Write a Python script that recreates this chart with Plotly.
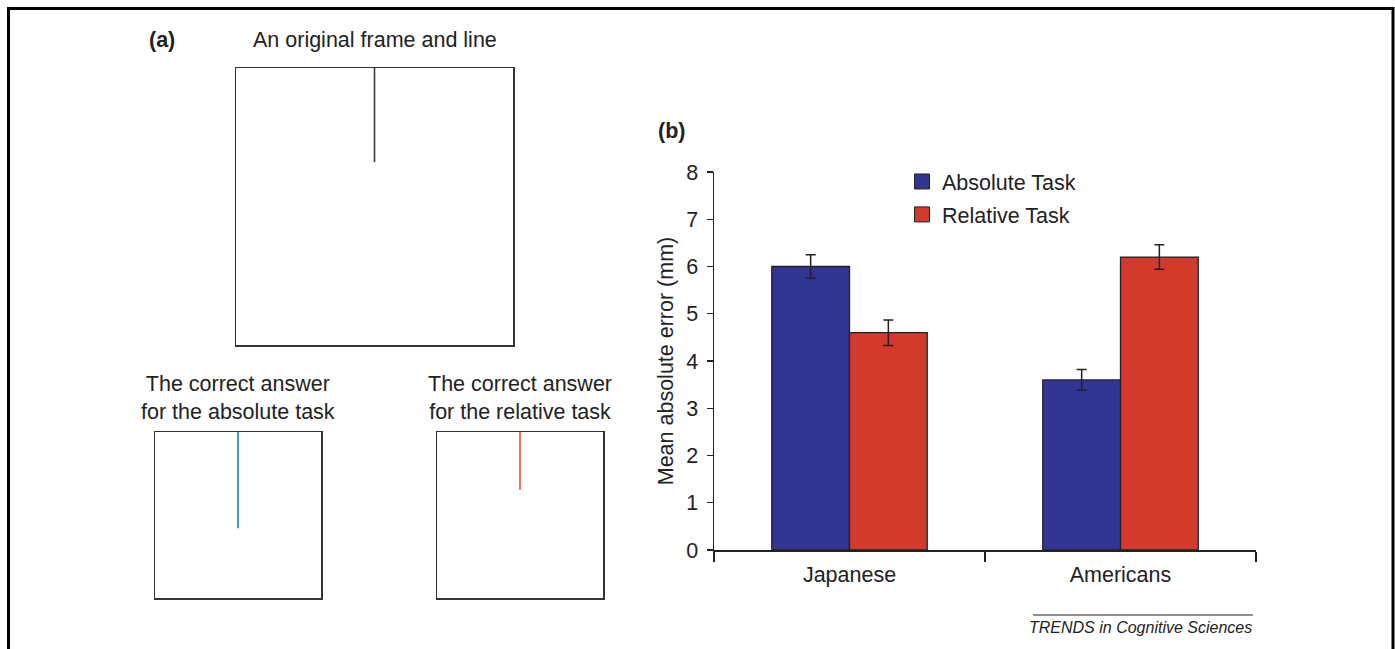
import plotly.graph_objects as go

W, H = 1395, 649

# ---------------- data ----------------
groups = ["Japanese", "Americans"]
absolute_task = [6.0, 3.6]
absolute_err = [0.25, 0.22]
relative_task = [4.6, 6.2]
relative_err = [0.27, 0.26]
y_ticks = [0, 1, 2, 3, 4, 5, 6, 7, 8]

# panel (a): vertical line positions inside unit frames (x, [y_top, y_bottom])
original_line_x = [0.5, 0.5]
original_line_y = [1.0, 0.66]
absolute_line_x = [0.5, 0.5]
absolute_line_y = [1.0, 0.42]
relative_line_x = [0.5, 0.5]
relative_line_y = [1.0, 0.65]

FONT = "Liberation Sans, Arial, Helvetica, sans-serif"
FS = 21.5
TXT = "#222222"
BLUE = "#333594"
RED = "#D23A2C"


def px(x):
    return x / W


def py(y):
    return 1 - y / H


fig = go.Figure()

# ---------------- panel (b): bar chart ----------------
fig.add_trace(go.Bar(
    x=groups, y=absolute_task, name="Absolute Task", showlegend=False,
    marker=dict(color=BLUE, line=dict(color="#222", width=1.3)),
    error_y=dict(type="data", array=absolute_err, color="#222", thickness=1.5, width=5),
    xaxis="x", yaxis="y",
))
fig.add_trace(go.Bar(
    x=groups, y=relative_task, name="Relative Task", showlegend=False,
    marker=dict(color=RED, line=dict(color="#222", width=1.3)),
    error_y=dict(type="data", array=relative_err, color="#222", thickness=1.5, width=5),
    xaxis="x", yaxis="y",
))
# legend entries (square swatches)
for nm, col, grp in [("Absolute Task", BLUE, "a"), ("Relative Task", RED, "b")]:
    fig.add_trace(go.Scatter(
        x=[None], y=[None], mode="markers", name=nm, legendgroup=grp,
        marker=dict(symbol="square", size=15, color=col, line=dict(color="#222", width=1)),
        xaxis="x", yaxis="y", hoverinfo="skip",
    ))

# ---------------- panel (a): frames and lines ----------------
line_specs = [
    (original_line_x, original_line_y, "#3a3a3a", "x2", "y2"),
    (absolute_line_x, absolute_line_y, "#1f7fcc", "x3", "y3"),
    (relative_line_x, relative_line_y, "#e0553a", "x4", "y4"),
]
for xs, ys, col, xa, ya in line_specs:
    fig.add_trace(go.Scatter(x=xs, y=ys, mode="lines", line=dict(color=col, width=1.6),
                             showlegend=False, hoverinfo="skip", xaxis=xa, yaxis=ya))

frame_axis = dict(range=[0, 1], showline=True, mirror=True, linecolor="#333",
                  linewidth=1.5, showgrid=False, zeroline=False, showticklabels=False,
                  ticks="", fixedrange=True, automargin=False)

layout = dict(
    template="none",
    width=W, height=H, margin=dict(l=0, r=0, t=0, b=0, pad=0, autoexpand=False),
    paper_bgcolor="white", plot_bgcolor="rgba(0,0,0,0)",
    font=dict(family=FONT, size=FS, color=TXT),
    barmode="group", bargap=0.4265, bargroupgap=0,
    showlegend=True,
    legend=dict(x=px(902), y=py(161), xanchor="left", yanchor="top",
                bgcolor="rgba(0,0,0,0)", font=dict(size=FS, color=TXT),
                tracegroupgap=2, itemwidth=30),
    xaxis=dict(domain=[px(714), px(1256)], type="category", tickson="boundaries",
               ticks="outside", ticklen=10, tickwidth=1.3, tickcolor="#222",
               showline=True, linecolor="#222", linewidth=1.5, showgrid=False,
               zeroline=False, tickfont=dict(size=FS, color=TXT), anchor="y",
               ticklabelstandoff=5,
               range=[-0.5, 1.5], automargin=False, fixedrange=True),
    yaxis=dict(domain=[py(550), py(172)], range=[0, 8], tickvals=y_ticks,
               ticks="outside", ticklen=6, tickwidth=1.3, tickcolor="#222",
               showline=True, linecolor="#222", linewidth=1.5, showgrid=False,
               zeroline=False, tickfont=dict(size=FS, color=TXT), anchor="x",
               ticklabelstandoff=4, automargin=False, fixedrange=True,
               title=dict(text="Mean absolute error (mm)", font=dict(size=FS, color=TXT),
                          standoff=6)),
    xaxis2=dict(frame_axis, domain=[px(236), px(513)], anchor="y2"),
    yaxis2=dict(frame_axis, domain=[py(345), py(68)], anchor="x2"),
    xaxis3=dict(frame_axis, domain=[px(155), px(321)], anchor="y3"),
    yaxis3=dict(frame_axis, domain=[py(598), py(432)], anchor="x3"),
    xaxis4=dict(frame_axis, domain=[px(437), px(603)], anchor="y4"),
    yaxis4=dict(frame_axis, domain=[py(598), py(432)], anchor="x4"),
)
fig.update_layout(**layout)


def ann(text, x, y, xanchor="center", size=FS, **kw):
    fig.add_annotation(text=text, x=px(x), y=py(y), xref="paper", yref="paper",
                       xanchor=xanchor, yanchor="middle", showarrow=False,
                       font=dict(family=FONT, size=size, color=TXT), **kw)


ann("<b>(a)</b>", 147, 40, xanchor="left")
ann("An original frame and line", 375, 40)
ann("The correct answer<br>for the absolute task", 238, 398)
ann("The correct answer<br>for the relative task", 520, 398)
ann("<b>(b)</b>", 656, 131, xanchor="left")
ann("<i>TRENDS in Cognitive Sciences</i>", 1254, 627, xanchor="right", size=16)

# footer rule
fig.add_shape(type="line", xref="paper", yref="paper", x0=px(1033), x1=px(1253),
              y0=py(615), y1=py(615), line=dict(color="#222", width=1))
# outer border (open at the bottom, beyond the page)
fig.add_shape(type="rect", xref="paper", yref="paper", x0=px(8.5), x1=px(1393),
              y0=py(8.5), y1=-0.05, line=dict(color="black", width=3))

fig.write_html("out.html", config={"displayModeBar": False, "staticPlot": True},
               post_script="document.body.style.margin='0';"
                           "document.body.style.overflow='hidden';")
